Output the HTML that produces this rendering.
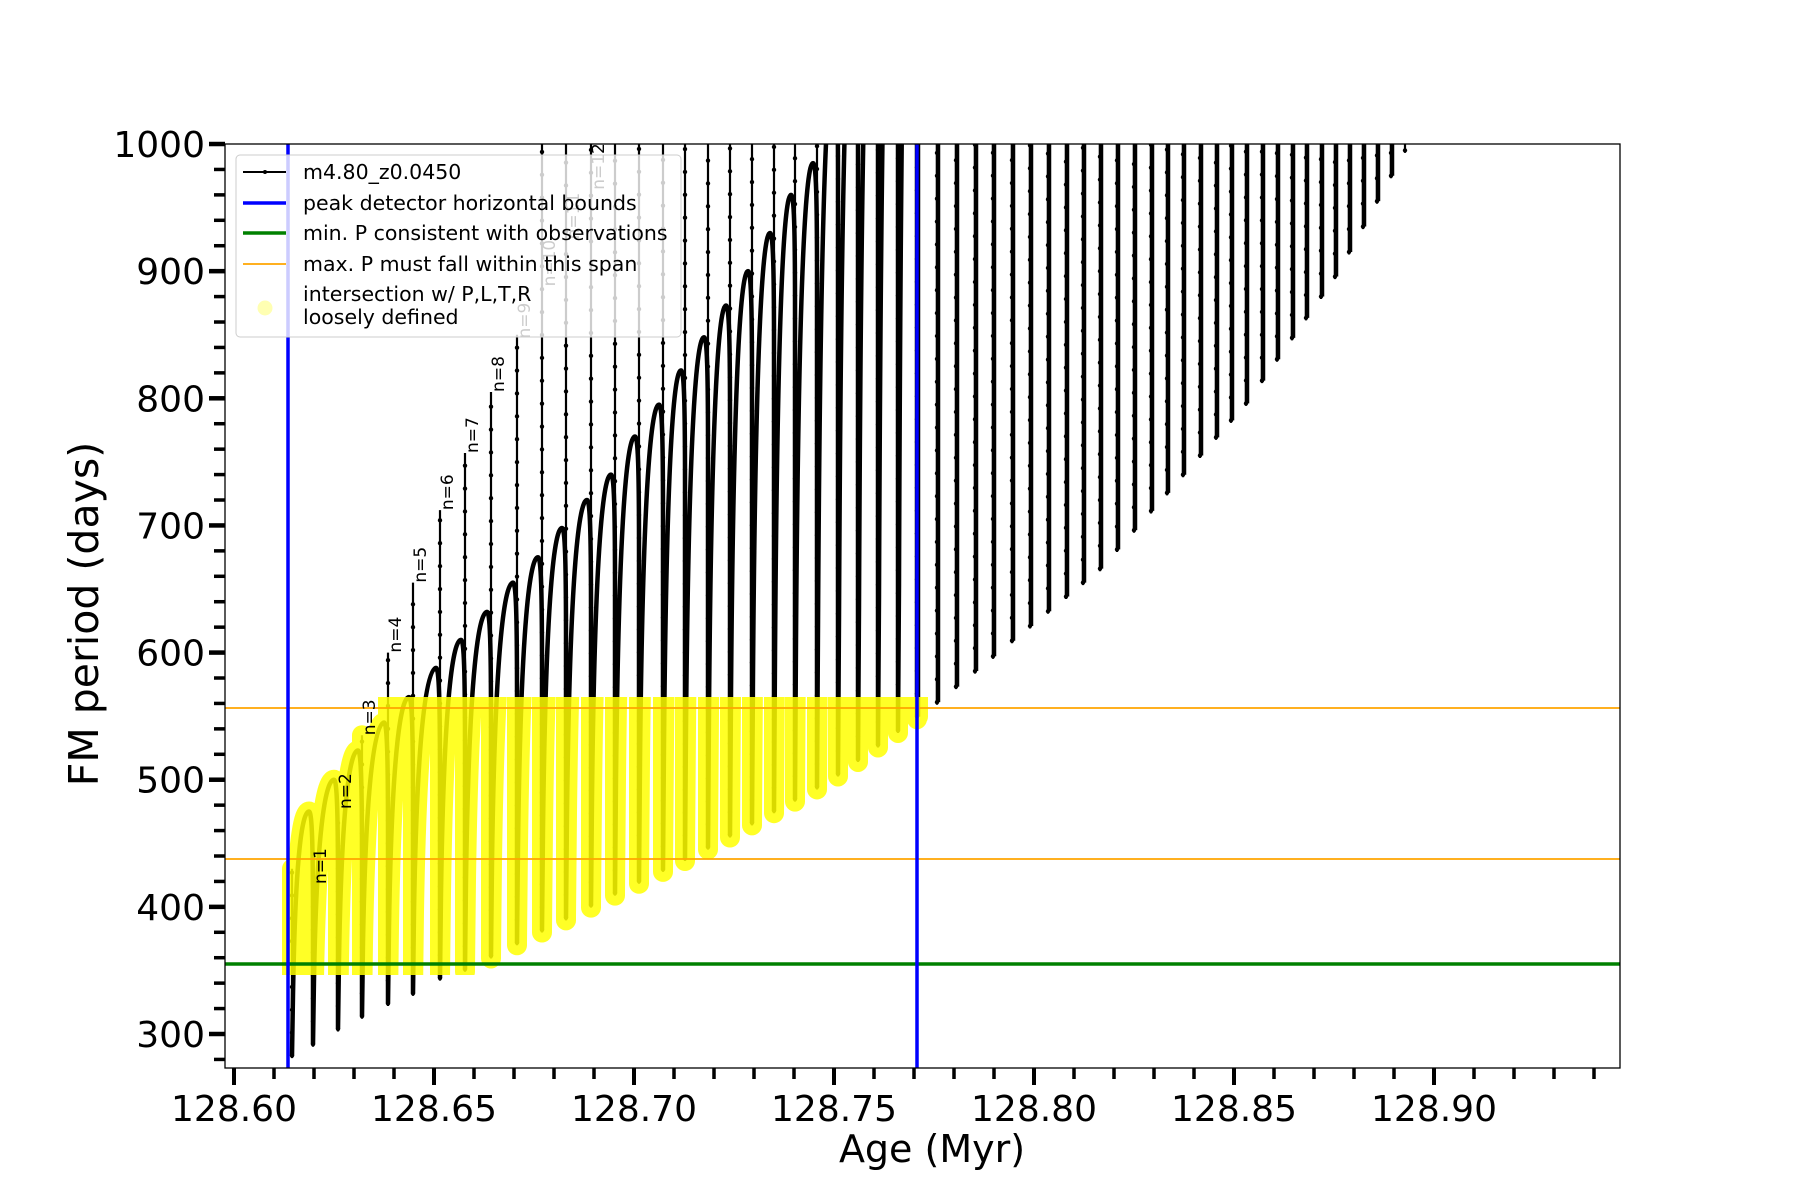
<!DOCTYPE html>
<html><head><meta charset="utf-8"><style>
html,body{margin:0;padding:0;background:#fff;}
svg{display:block;font-family:"DejaVu Sans","Liberation Sans",sans-serif;}
</style></head><body>
<svg id="s" width="1800" height="1200" viewBox="0 0 1800 1200" xmlns="http://www.w3.org/2000/svg">
<defs>
<clipPath id="ax"><rect x="225" y="144" width="1395" height="924"/></clipPath>
<clipPath id="yb"><rect x="276" y="697" width="652" height="278"/></clipPath>
</defs>
<g id="black" clip-path="url(#ax)"></g>
<g id="yellow" clip-path="url(#yb)" opacity="0.85"></g>
<g id="lines" clip-path="url(#ax)">
<line x1="225" x2="1620" y1="708" y2="708" stroke="#ffa500" stroke-width="1.8"/>
<line x1="225" x2="1620" y1="859" y2="859" stroke="#ffa500" stroke-width="1.8"/>
<line x1="225" x2="1620" y1="964" y2="964" stroke="#008000" stroke-width="3.5"/>
<line x1="288" x2="288" y1="144" y2="1068" stroke="#0000ff" stroke-width="3.5"/>
<line x1="917" x2="917" y1="144" y2="1068" stroke="#0000ff" stroke-width="3.5"/>
</g>
<g id="labels" font-size="17" fill="#000"></g>
<g id="legend">
<rect x="236" y="155" width="445" height="182" rx="4" fill="#fff" fill-opacity="0.8" stroke="#cccccc" stroke-width="1"/>
<line x1="243" x2="286" y1="172" y2="172" stroke="#000" stroke-width="2"/>
<circle cx="265" cy="172" r="2" fill="#000"/>
<line x1="243" x2="286" y1="203" y2="203" stroke="#0000ff" stroke-width="3.5"/>
<line x1="243" x2="286" y1="233" y2="233" stroke="#008000" stroke-width="3.5"/>
<line x1="243" x2="286" y1="264" y2="264" stroke="#ffa500" stroke-width="1.8"/>
<circle cx="265" cy="308" r="7.5" fill="#ffff00" fill-opacity="0.3"/>
<g font-size="20.5" fill="#000">
<text x="303" y="179">m4.80_z0.0450</text>
<text x="303" y="210">peak detector horizontal bounds</text>
<text x="303" y="240">min. P consistent with observations</text>
<text x="303" y="271">max. P must fall within this span</text>
<text x="303" y="301">intersection w/ P,L,T,R</text>
<text x="303" y="324">loosely defined</text>
</g>
</g>
<rect x="225" y="144" width="1395" height="924" fill="none" stroke="#000" stroke-width="1.3"/>
<g id="ticks" stroke="#000"></g>
<g id="ticklabels" font-size="36" fill="#000"></g>
<text x="932" y="1162" font-size="38" text-anchor="middle">Age (Myr)</text>
<text transform="translate(98,614) rotate(-90)" font-size="41" text-anchor="middle">FM period (days)</text>
</svg>
<script>
(function(){
var NS="http://www.w3.org/2000/svg";
function el(tag,attrs,parent,txt){var e=document.createElementNS(NS,tag);for(var k in attrs)e.setAttribute(k,attrs[k]);if(txt!==undefined)e.textContent=txt;parent.appendChild(e);return e;}
function Y(v){return 1034-(v-300)*1.2714;}
function X(a){return 234+(a-128.60)*4000;}
var ticks=document.getElementById('ticks'),tl=document.getElementById('ticklabels');
for(var v=280;v<=1000;v+=20){
  var major=(v%100===0);
  el('line',{x1:major?209:214,x2:225,y1:Y(v),y2:Y(v),'stroke-width':major?4.5:3.5},ticks);
  if(major) el('text',{x:205,y:Y(v)+13,'text-anchor':'end'},tl,String(v));
}
for(var i=0;i<=34;i++){
  var a=128.60+i*0.01, x=X(a), major=(i%5===0);
  el('line',{x1:x,x2:x,y1:1068,y2:major?1085:1079,'stroke-width':major?4:3.5},ticks);
  if(major&&i<=30) el('text',{x:x,y:1121,'text-anchor':'middle'},tl,a.toFixed(2));
}
var xs=[292,313,338,362,388,413,440,465,491,517,542,566,591,615,639,663,685,708,730,752,774,795,817,838,858,878,898,917,937,956,975,993,1012,1030,1048,1066,1083,1100,1117,1134,1151,1167,1183,1200,1216,1231,1246,1262,1277,1292,1306,1321,1335,1349,1363,1377,1391,1405];
var bp=[[292,283],[313,292],[338,304],[362,314],[388,324],[413,332],[440,344],[465,351],[600,405],[708,447],[830,500],[937,561],[1100,666],[1246,796],[1337,898],[1405,995]];
function bot(x){for(var i=0;i<bp.length-1;i++){if(x<=bp[i+1][0]){var t=(x-bp[i][0])/(bp[i+1][0]-bp[i][0]);return bp[i][1]+t*(bp[i+1][1]-bp[i][1]);}}return bp[bp.length-1][1];}
var A=[475,500,523,545,565,588,610,632,655,675,698,720,740,770,795,822,848,873,900,930,960,985];
function arcPeak(i){return i<A.length?A[i]:1000+(i-A.length+1)*60;}
var T={0:430,1:418,2:477,3:535,4:600,5:655,6:712,7:757,8:805,9:850};
var L={1:418,2:477,3:535,4:600,5:655,6:712,7:757,8:805,9:847,10:888,11:925,12:964};
function top(j){return T[j]!==undefined?T[j]:1300;}
var d="";
for(var i=0;i<xs.length-1;i++){
  var xa=xs[i],xb=xs[i+1],w=xb-xa,bi=bot(xa),bn=bot(xb),Ap=arcPeak(i);
  if(i<27){
    var v0=bi+(Math.min(Ap,1000)-bi)*0.25;
    var px=xb-Math.min(4,w*0.2);
    d+="M"+xa+","+Y(bi)+" L"+(xa+1)+","+Y(v0)+" C"+(xa+1+0.12*w)+","+Y(v0+0.8*(Ap-v0))+" "+(px-0.3*w)+","+Y(Ap)+" "+px+","+Y(Ap)+
       " C"+(xb-1)+","+Y(Ap)+" "+xb+","+Y(Ap-25)+" "+xb+","+Y(Ap-90)+" L"+xb+","+Y(bn)+" ";
  } else {
    d+="M"+(xa+1)+","+Y(bi)+" L"+(xa+1)+","+Y(1100)+" ";
  }
}
var black=document.getElementById('black'),yel=document.getElementById('yellow');
el('path',{d:d,fill:'none',stroke:'#000','stroke-width':4.5,'stroke-linejoin':'round'},black);
var sd="";
for(var j=0;j<xs.length;j++){sd+="M"+xs[j]+","+Y(bot(xs[j])-2)+" L"+xs[j]+","+Y(top(j))+" ";}
el('path',{d:sd,fill:'none',stroke:'#000','stroke-width':2.2},black);
for(var j=0;j<xs.length;j++){var b=bot(xs[j]),t=Math.min(top(j),1000);for(var v=b;v<=t;v+=18){el('circle',{cx:xs[j],cy:Y(v),r:2.2,fill:'#000'},black);}}
el('path',{d:d+sd,fill:'none',stroke:'#ffff00','stroke-width':20,'stroke-linecap':'round','stroke-linejoin':'round'},yel);
var lab=document.getElementById('labels');
for(var n=1;n<=12;n++){
  var x=xs[n]+13,y=Y(L[n]);
  el('text',{transform:'translate('+x+','+y+') rotate(-90)'},lab,'n='+n);
}
})();
</script>
</body></html>
